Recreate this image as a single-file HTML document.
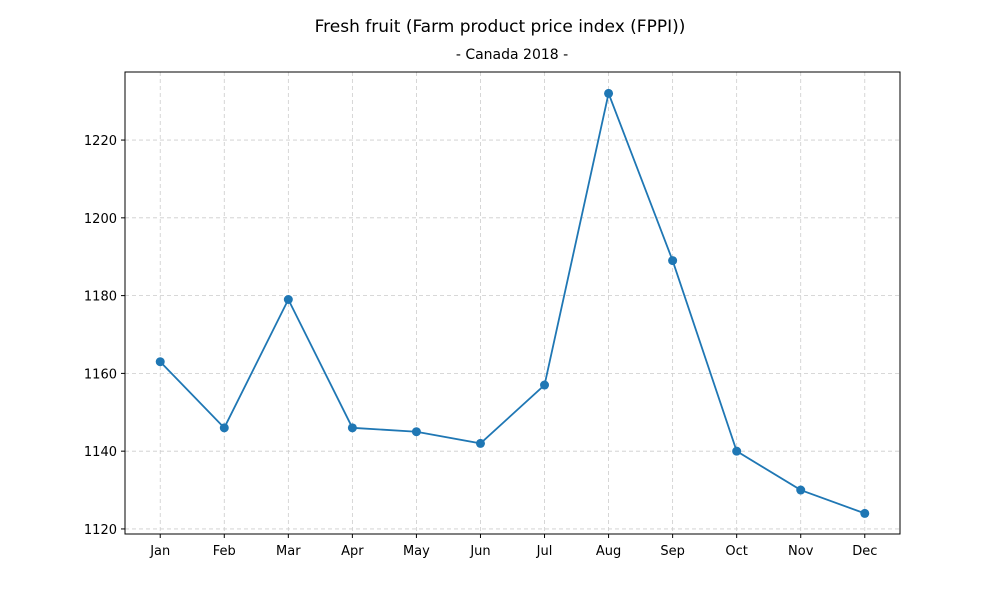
<!DOCTYPE html>
<html><head><meta charset="utf-8"><style>
body{margin:0;background:#fff;}
svg text{font-family:"DejaVu Sans","Liberation Sans",sans-serif;fill:#000;}
</style></head><body>
<svg id="chart" width="1000" height="600">
<text x="500" y="32" text-anchor="middle" font-size="17">Fresh fruit (Farm product price index (FPPI))</text>
<text x="512" y="59" text-anchor="middle" font-size="14">- Canada 2018 -</text>
<g id="grid"></g>
<g id="axes"></g>
<g id="series"></g>
</svg>
<script>
const categories=["Jan","Feb","Mar","Apr","May","Jun","Jul","Aug","Sep","Oct","Nov","Dec"];
const values=[1163,1146,1179,1146,1145,1142,1157,1232,1189,1140,1130,1124];
const yTicks=[1120,1140,1160,1180,1200,1220];
const L=125,R=900,T=72,B=534;
const yMin=1118.7,yMax=1237.5;
const xs=i=>L+(i+0.55)/12.1*(R-L);
const ys=v=>B-(v-yMin)/(yMax-yMin)*(B-T);
const NS="http://www.w3.org/2000/svg";
function mk(tag,attrs,parent){const e=document.createElementNS(NS,tag);for(const k in attrs)e.setAttribute(k,attrs[k]);parent.appendChild(e);return e;}
const grid=document.getElementById('grid'),axes=document.getElementById('axes'),series=document.getElementById('series');
categories.forEach((c,i)=>{
 const x=xs(i);
 const g=mk('line',{x1:x,x2:x,y1:T,y2:B,stroke:'#ccc','stroke-dasharray':'4,3','stroke-width':0.8},grid);
 
 
 mk('line',{x1:x,x2:x,y1:B,y2:B+4,stroke:'#000'},axes);
 const t=mk('text',{x:x,y:B+21,'text-anchor':'middle','font-size':13},axes);
 t.textContent=c;
 
 
});
yTicks.forEach(v=>{
 const y=ys(v);
 const g=mk('line',{x1:L,x2:R,y1:y,y2:y,stroke:'#ccc','stroke-dasharray':'4,3','stroke-width':0.8},grid);
 
 
 mk('line',{x1:L-4,x2:L,y1:y,y2:y,stroke:'#000'},axes);
 const t=mk('text',{x:L-8,y:y+5,'text-anchor':'end','font-size':13},axes);
 t.textContent=v;
 
 
});
const fr=mk('rect',{x:L,y:T,width:R-L,height:B-T,fill:'none',stroke:'#000','stroke-width':1},axes);


const pl=mk('polyline',{points:values.map((v,i)=>xs(i)+','+ys(v)).join(' '),fill:'none',stroke:'#1f77b4','stroke-width':1.8},series);


values.forEach((v,i)=>{
 const c=mk('circle',{cx:xs(i),cy:ys(v),r:4.5,fill:'#1f77b4'},series);
 
 
});
</script>
</body></html>
